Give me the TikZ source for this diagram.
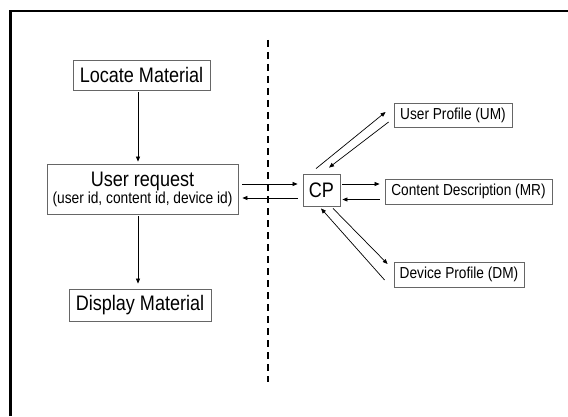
\documentclass[tikz,border=0pt]{standalone}
\usepackage{fontspec}
\setmainfont{Liberation Sans}[FakeStretch=0.86]
\usetikzlibrary{arrows.meta}

\begin{document}
\begin{tikzpicture}[x=1pt, y=1pt, box/.style = {draw=black!60, line width=0.8pt, inner sep=0pt, align=center}, big/.style = {font=\fontsize{21}{23}\selectfont}, small/.style = {font=\fontsize{15.9}{18}\selectfont}, arr/.style = {line width=0.7pt, -{Triangle[length=5pt,width=4pt]}}] 
		\useasboundingbox (0,0) rectangle (568,416);
		\draw[line width=2.5pt] (10.5,0) -- (10.5,405) -- (568,405);
		\draw[line width=2pt, dash pattern=on 7pt off 5pt] (267.5,376) -- (267.5,34);
		
		\node[box,big,minimum width=137,minimum height=30] (loc) at (141.5,341) {Locate Material};
		\node[box,minimum width=191,minimum height=50] (req) at (142.5,227) {{\fontsize{21}{17}\selectfont User request}\\{\fontsize{16}{17}\selectfont (user id, content id, device id)}};
		\node[box,big,minimum width=142,minimum height=32] (disp) at (140,111) {Display Material};
		\node[box,big,minimum width=37,minimum height=32] (cp) at (321.5,226) {CP};
		\node[box,small,minimum width=118,minimum height=24] (up) at (453,301) {User Profile (UM)};
		\node[box,small,minimum width=167,minimum height=25] (cd) at (468.5,224.5) {Content Description (MR)};
		\node[box,small,minimum width=130,minimum height=25] (dp) at (459,141.5) {Device Profile (DM)};
		
		\draw[arr, shorten <=2pt, shorten >=2pt] ([xshift=-3.5pt]loc.south) -- ([xshift=-3.5pt]loc.south |- req.north);
		\draw[arr, shorten <=2pt, shorten >=5pt] ([xshift=-4.5pt]req.south) -- ([xshift=-4.5pt]req.south |- disp.north);
		\draw[arr, shorten <=4pt, shorten >=5pt] ([yshift=5pt]req.east) -- ([yshift=5pt]req.east -| cp.west);
		\draw[arr, shorten <=5pt, shorten >=4pt] ([yshift=-8pt]cp.west) -- ([yshift=-8pt]cp.west -| req.east);
		\draw[arr, shorten <=2pt, shorten >=5pt] ([yshift=6pt]cp.east) -- ([yshift=6pt]cp.east -| cd.west);
		\draw[arr, shorten <=5pt, shorten >=2pt] ([yshift=-8pt]cd.west) -- ([yshift=-8pt]cd.west -| cp.east);
		\draw[arr] ([xshift=-5.5pt,yshift=5pt]cp.north) -- ([xshift=-8pt,yshift=3pt]up.west);
		\draw[arr] ([xshift=-5pt,yshift=-7pt]up.west) -- ([xshift=7.5pt,yshift=6pt]cp.north);
		\draw[arr] ([xshift=11.5pt,yshift=-2pt]cp.south) -- ([xshift=-6pt,yshift=10.5pt]dp.west);
		\draw[arr] ([xshift=-9pt,yshift=-5.5pt]dp.west) -- ([xshift=-0.5pt,yshift=-2pt]cp.south);
	\end{tikzpicture}
\end{document}
